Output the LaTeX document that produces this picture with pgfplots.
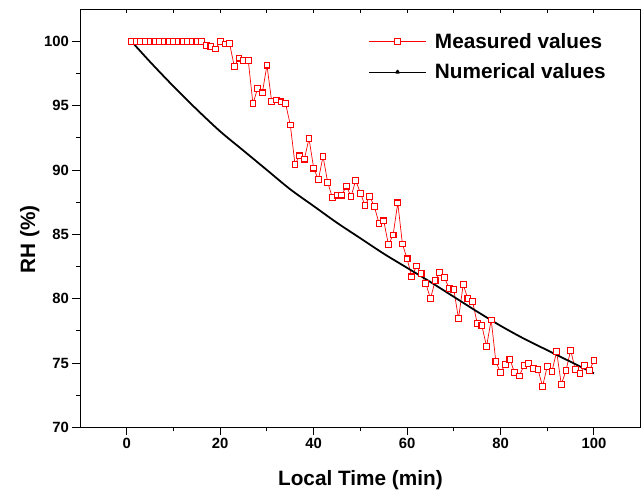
\documentclass[border=0pt]{standalone}
\usepackage{pgfplots}
\pgfplotsset{compat=1.18}
\usepackage{fontspec}
\setmainfont{Liberation Sans}
\pgfplotstableread{
t v
1 100
2 100
3 100
4 100
5 100
6 100
7 100
8 100
9 100
10 100
11 100
12 100
13 100
14 100
15 100
16 100
17 99.7
18 99.6
19 99.4
20 100.0
21 99.8
22 99.85
23 98.05
24 98.7
25 98.5
26 98.5
27 95.15
28 96.35
29 96.0
30 98.15
31 95.35
32 95.45
33 95.3
34 95.15
35 93.5
36 90.45
37 91.1
38 90.85
39 92.45
40 90.15
41 89.25
42 91.05
43 89.05
44 87.85
45 88.05
46 88.05
47 88.75
48 87.95
49 89.2
50 88.2
51 87.25
52 87.95
53 87.15
54 85.85
55 86.05
56 84.2
57 84.95
58 87.45
59 84.25
60 83.1
61 81.7
62 82.55
63 81.95
64 81.2
65 80.0
66 81.4
67 82.05
68 81.65
69 80.8
70 80.7
71 78.45
72 81.1
73 80.0
74 79.8
75 78.1
76 77.9
77 76.3
78 78.35
79 75.1
80 74.25
81 74.9
82 75.3
83 74.25
84 74.0
85 74.8
86 74.95
87 74.6
88 74.5
89 73.2
90 74.75
91 74.35
92 75.9
93 73.35
94 74.4
95 76.0
96 74.5
97 74.2
98 74.8
99 74.4
100 75.2
}\measured
\pgfplotstableread{
t v
1 100
5 98.4
10 96.5
15 94.7
20 93.0
25 91.5
30 90.0
35 88.5
40 87.2
45 85.9
50 84.7
55 83.5
60 82.4
65 81.3
70 80.15
75 79.0
80 77.9
85 76.9
90 76.0
95 75.1
100 74.2
}\numerical
\begin{document}
\begin{tikzpicture}
\begin{axis}[
  scale only axis,
  width=567pt, height=423pt,
  xmin=-10, xmax=110, ymin=70, ymax=102.5,
  xtick={0,20,...,100}, ytick={70,75,...,100},
  minor x tick num=1, minor y tick num=1,
  xtick pos=bottom, ytick pos=left,
  tick align=outside,
  major tick length=7.7pt, minor tick length=4pt,
  axis line style={line width=1pt},
  every tick/.style={line width=1pt, black},
  /pgf/number format/assume math mode=true,
  tick label style={font=\bfseries\fontsize{15}{18}\selectfont},
  xlabel={Local Time (min)}, ylabel={RH (\%)},
  label style={font=\bfseries\fontsize{21}{25}\selectfont},
  xlabel style={at={(axis description cs:0.5,-0.127)}, anchor=center},
  ylabel style={at={(axis description cs:-0.09,0.45)}, anchor=center},
  legend style={at={(axis description cs:0.515,0.943)}, anchor=north west,
    draw=none, fill=none, inner sep=0pt, row sep=14pt,
    nodes={inner xsep=9pt, inner ysep=0pt},
    font=\bfseries\fontsize{21}{24}\selectfont},
  legend cell align=left,
]
\addplot[red, line width=0.7pt, line join=round, no marks, forget plot] table[x=t, y=v] {\measured};
\addplot[red, only marks, mark=square*, mark size=2.9pt,
  mark options={fill=white, draw=red, line width=1.1pt, line join=miter, solid},
  legend image code/.code={
    \draw[red, line width=0.7pt] (0pt,0pt) -- (57pt,0pt);
    \draw[red, fill=white, line width=1.1pt] (25.6pt,-2.9pt) rectangle (31.4pt,2.9pt);
  }] table[x=t, y=v] {\measured};
\addlegendentry{Measured values}
\addplot[black, line width=1.8pt, line join=round, no marks, smooth,
  legend image code/.code={
    \draw[black, line width=0.7pt] (0pt,0pt) -- (57pt,0pt);
    \fill[black] (28.5pt,1.3pt) -- (27.2pt,-0.9pt) -- (29.8pt,-0.9pt) -- cycle;
  }] table[x=t, y=v] {\numerical};
\addlegendentry{Numerical values}
\end{axis}
\begin{axis}[
  scale only axis,
  width=567pt, height=423pt,
  xmin=-10, xmax=110, ymin=70, ymax=102.5,
  axis x line*=top, hide y axis,
  axis line style={line width=1pt},
  xtick={-10,0,...,110}, xticklabels={},
  tick align=inside, major tick length=4pt,
  every tick/.style={line width=1pt, black},
]
\end{axis}
\path[use as bounding box] ([xshift=-81pt,yshift=-65.7pt]current axis.south west) rectangle ([xshift=563pt,yshift=9.3pt]current axis.north west);
\end{tikzpicture}
\end{document}
